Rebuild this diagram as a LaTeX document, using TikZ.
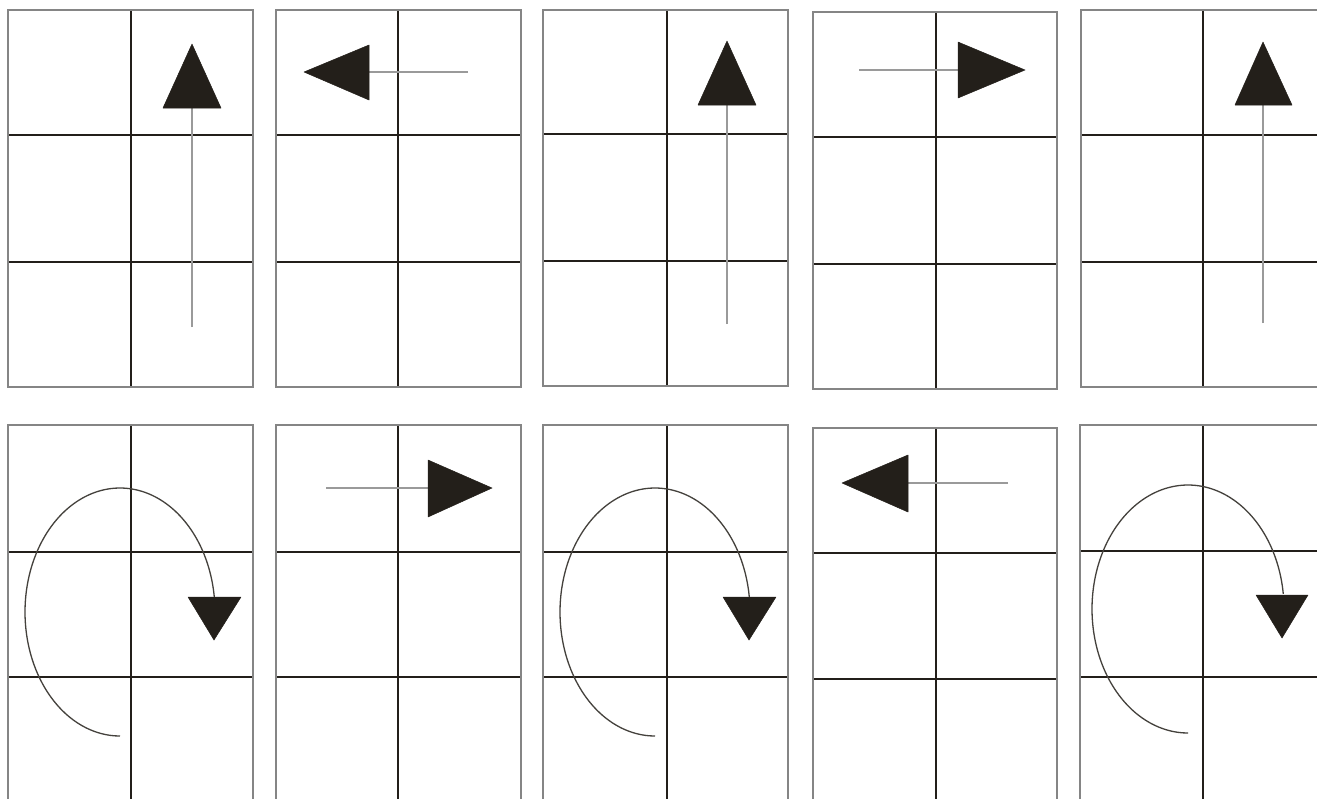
\documentclass[tikz,border=0pt]{standalone}
\begin{document}
\definecolor{framecol}{HTML}{858585}
\definecolor{ink}{HTML}{231F1A}
\definecolor{stemcol}{HTML}{9A9A9A}
\newcommand\gpanel[7]{%
  \draw[innerline] (#5,#2) -- (#5,#4);
  \draw[innerline] (#1,#6) -- (#3,#6);
  \draw[innerline] (#1,#7) -- (#3,#7);
  \draw[outerline] (#1,#2) rectangle (#3,#4);
}
\newcommand\loopcurve[4]{% cx cy rx ry
  \draw[curveline] plot[domain=90:353,samples=90,smooth] ({#1+#3*cos(\x)},{#2+#4*sin(\x)});
}
\begin{tikzpicture}[x=1pt,y=-1pt,
  outerline/.style={draw=framecol,line width=2.6pt},
  innerline/.style={draw=ink,line width=1.9pt},
  stemline/.style={draw=stemcol,line width=2.6pt},
  curveline/.style={draw=ink!85,line width=1.3pt},
  headfill/.style={fill=ink,draw=ink,line width=0.5pt,line join=round}]
\clip (0,0) rectangle (1317,798);
\fill[white] (0,0) rectangle (1317,798);
% top row
\gpanel{8}{10}{253}{387}{131}{135}{262}
\gpanel{276}{10}{521}{387}{398}{135}{262}
\gpanel{543}{10}{788}{386}{667}{134}{261}
\gpanel{813}{12}{1057}{389}{936}{137}{264}
\gpanel{1081}{10}{1326}{387}{1203}{135}{262}
% bottom row
\gpanel{8}{425}{253}{820}{131}{552}{677}
\gpanel{276}{425}{521}{820}{398}{552}{677}
\gpanel{543}{425}{788}{820}{667}{552}{677}
\gpanel{813}{428}{1057}{820}{936}{553}{679}
\gpanel{1080}{425}{1325}{820}{1203}{551}{677}
% top row arrows
\coordinate (s1a) at (192,327); \coordinate (s1b) at (192,108);
\draw[stemline] (s1a) -- (s1b);
\fill[headfill] (163,108) -- (192,44) -- (221,108) -- cycle;
\coordinate (s2a) at (468,72); \coordinate (s2b) at (369,72);
\draw[stemline] (s2a) -- (s2b);
\fill[headfill] (369,45) -- (304,72) -- (369,100) -- cycle;
\coordinate (s3a) at (727,324); \coordinate (s3b) at (727,105);
\draw[stemline] (s3a) -- (s3b);
\fill[headfill] (698,105) -- (727,41) -- (756,105) -- cycle;
\coordinate (s4a) at (859,70); \coordinate (s4b) at (958,70);
\draw[stemline] (s4a) -- (s4b);
\fill[headfill] (958,42) -- (1025,70) -- (958,98) -- cycle;
\coordinate (s5a) at (1263,323); \coordinate (s5b) at (1263,105);
\draw[stemline] (s5a) -- (s5b);
\fill[headfill] (1235,105) -- (1263,42) -- (1292,105) -- cycle;
% bottom row arrows
\loopcurve{120}{612}{95}{124}
\fill[headfill] (188,597) -- (214,640) -- (241,597) -- cycle;
\coordinate (b2a) at (326,488); \coordinate (b2b) at (428,488);
\draw[stemline] (b2a) -- (b2b);
\fill[headfill] (428,460) -- (492,488) -- (428,517) -- cycle;
\loopcurve{655}{612}{95}{124}
\fill[headfill] (723,597) -- (749,640) -- (776,597) -- cycle;
\coordinate (b4a) at (1008,483); \coordinate (b4b) at (908,483);
\draw[stemline] (b4a) -- (b4b);
\fill[headfill] (908,455) -- (842,483) -- (908,512) -- cycle;
\loopcurve{1188}{609}{96}{124}
\fill[headfill] (1256,595) -- (1282,638) -- (1308,595) -- cycle;
\end{tikzpicture}
\end{document}
